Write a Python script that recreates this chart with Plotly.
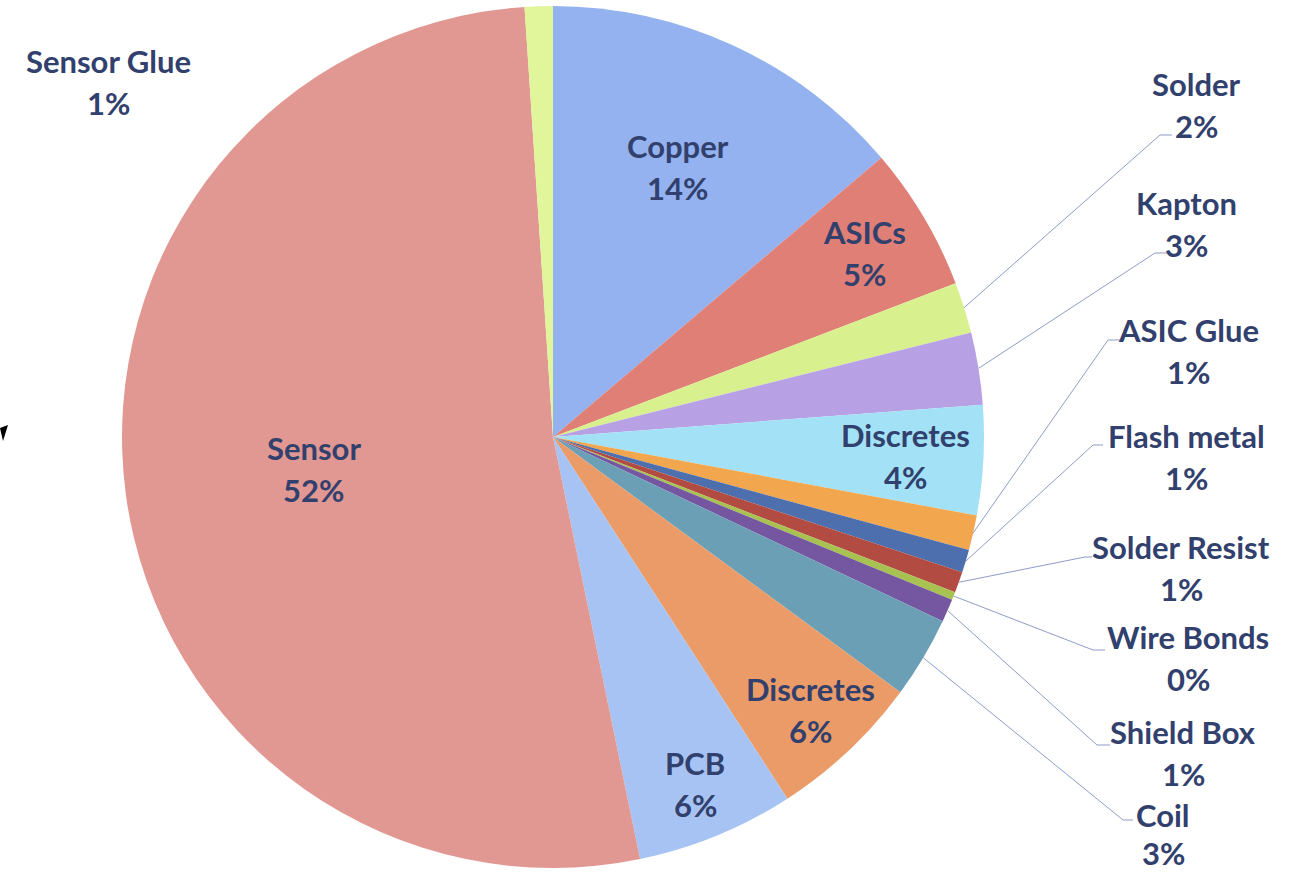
import math
import plotly.graph_objects as go

# Component shares of the module (percent of total)
keys = ["copper", "asics", "solder", "kapton", "discretes_a", "asic_glue",
        "flash_metal", "solder_resist", "wire_bonds", "shield_box", "coil",
        "discretes_b", "pcb", "sensor", "sensor_glue"]
names = ["Copper", "ASICs", "Solder", "Kapton", "Discretes", "ASIC Glue",
         "Flash metal", "Solder Resist", "Wire Bonds", "Shield Box", "Coil",
         "Discretes", "PCB", "Sensor", "Sensor Glue"]
shares = [13.75, 5.4, 1.9, 2.7, 4.1, 1.3, 0.86, 0.78, 0.3, 0.86, 3.05,
          5.75, 5.9, 52.06, 1.05]

colors = ["#94b2ef", "#e07f76", "#d8f08e", "#b7a0e4", "#a3e2f6", "#f2a64e",
          "#4d6fae", "#b24c42", "#a7c251", "#7557a1", "#6a9fb6",
          "#eb9b68", "#a7c3f3", "#e29892", "#e1f59a"]

# Canvas and pie geometry (pixels)
W, H = 1296, 878
CX, CY, R = 553, 437, 431

# Labels drawn inside their slice: radial position as a fraction of R
inside = {"copper": 0.69, "asics": 0.84, "discretes_a": 0.82,
          "sensor": 0.56, "pcb": 0.87, "discretes_b": 0.87}

# Labels placed outside: (label centre x, centre y, elbow x, elbow y, tail x, line gap)
outside = {
    "solder":        (1196, 105, 1160, 135, 1172, 42),
    "kapton":        (1186, 224, 1155, 253, 1167, 42),
    "asic_glue":     (1188, 351, 1108, 340, 1120, 42),
    "flash_metal":   (1186, 457, 1093, 445, 1103, 42),
    "solder_resist": (1181, 568, 1085, 557, 1092, 42),
    "wire_bonds":    (1188, 658, 1093, 650, 1105, 42),
    "shield_box":    (1183, 753, 1097, 745, 1110, 42),
    "coil":          (1163, 834, 1123, 820, 1133, 38),
    "sensor_glue":   (108, 82, None, None, None, 42),
}

TEXT = "#31406d"
LEADER = "#8e9dc8"
FONT = dict(family="Lato", size=31, color=TEXT, weight=700)
LINE_GAP = 42


def px(x):
    return x / W


def py(y):
    return 1 - y / H


total = sum(shares)
pcts = [round(100 * v / total) for v in shares]

# Mid angle of each slice, clockwise from 12 o'clock
mids = []
acc = 0.0
for v in shares:
    mids.append(360 * (acc + v / 2) / total)
    acc += v

fig = go.Figure(go.Pie(
    labels=keys, values=shares, sort=False, direction="clockwise", rotation=0,
    marker=dict(colors=colors, line=dict(width=0)),
    textinfo="none", hoverinfo="skip", showlegend=False,
    domain=dict(x=[px(CX - R), px(CX + R)], y=[py(CY + R), py(CY - R)]),
))

annotations = []
shapes = []


def add_label(name, pct, cx, cy, gap=LINE_GAP):
    for txt, dy in ((name, -gap / 2), (f"{pct}%", gap / 2)):
        annotations.append(dict(
            x=px(cx), y=py(cy + dy), xref="paper", yref="paper",
            text=txt, showarrow=False, xanchor="center", yanchor="middle",
            font=FONT, borderpad=0,
        ))


for i, k in enumerate(keys):
    a = math.radians(mids[i])
    if k in inside:
        f = inside[k]
        add_label(names[i], pcts[i], CX + f * R * math.sin(a), CY - f * R * math.cos(a))
    else:
        lx, ly, ex, ey, tx, gap = outside[k]
        add_label(names[i], pcts[i], lx, ly, gap)
        if ex is not None:
            sx, sy = CX + R * math.sin(a), CY - R * math.cos(a)
            path = (f"M {px(sx)},{py(sy)} L {px(ex)},{py(ey)} L {px(tx)},{py(ey)}")
            shapes.append(dict(type="path", path=path, xref="paper", yref="paper",
                               line=dict(color=LEADER, width=1)))

# small black pointer at the left edge
shapes.append(dict(type="path", xref="paper", yref="paper",
                   path=f"M {px(0)},{py(428)} L {px(8)},{py(425)} L {px(3)},{py(441)} Z",
                   fillcolor="black", line=dict(width=0)))

fig.update_layout(
    width=W, height=H, margin=dict(l=0, r=0, t=0, b=0),
    paper_bgcolor="white", plot_bgcolor="white",
    annotations=annotations, shapes=shapes,
)

fig.write_html("out.html")
